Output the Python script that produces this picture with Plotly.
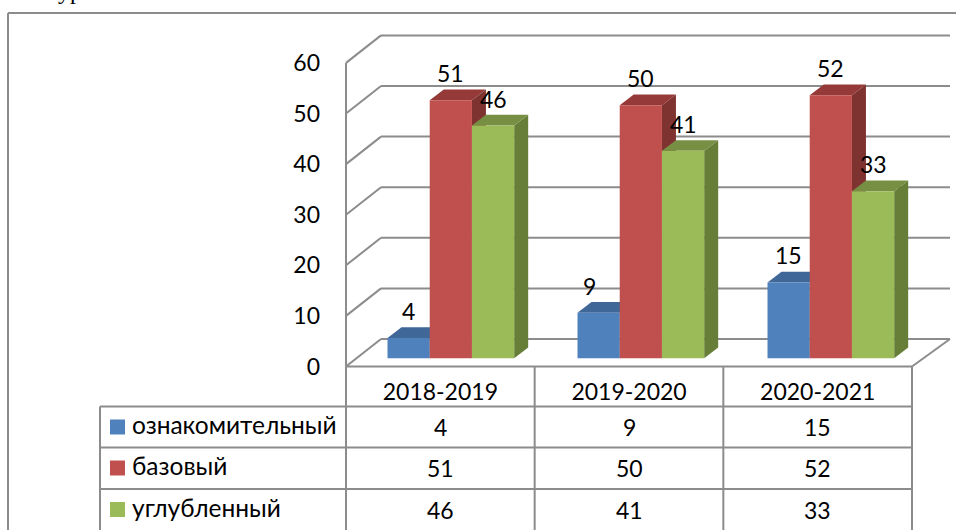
import plotly.graph_objects as go

# ---------- data ----------
categories = ["2018-2019", "2019-2020", "2020-2021"]
series_names = ["ознакомительный", "базовый", "углубленный"]
introductory = [4, 9, 15]
basic = [51, 50, 52]
advanced = [46, 41, 33]
tick_values = [0, 10, 20, 30, 40, 50, 60]

series_values = [introductory, basic, advanced]
front_colors = ["#4F81BD", "#C0504D", "#9BBB59"]
top_colors = ["#3F6797", "#953A38", "#778F43"]
side_colors = ["#345379", "#7F3331", "#667E38"]

# ---------- layout constants (pixels of the 956x530 page) ----------
W, H = 956, 530
PX_PER_CAT = 188.67
PX_PER_VAL = 5.06
GROUP_STEP = 190.0 / PX_PER_CAT   # bars sit on a plane slightly deeper than the table
X0_PX, Y0_PX = 346.0, 366.5       # left edge of first category, value 0 on the front wall
DOM_L, DOM_R, DOM_T, DOM_B = 338.0, 956.0, 13.0, 376.0
GRID = "#8C8C8C"
FONT = "Lato, 'Open Sans', sans-serif"
FS = 23
FS_NAME = 24.5

def dx(px):
    return px / PX_PER_CAT

def dy(px):
    return px / PX_PER_VAL

def py(px):
    return (DOM_B - px) / (DOM_B - DOM_T)

def px_paper(px):
    return (px - DOM_L) / (DOM_R - DOM_L)

WALL_DX, WALL_DY = dx(35), dy(27.5)
BAR_SHIFT_X, BAR_BASE = dx(10.5), dy(8.2)
BAR_DX, BAR_DY = dx(14), dy(10.7)
BAR_W = GROUP_STEP * 2 / 9
n = len(categories)
x_left = -0.5
x_right = 2.5
bar_x = [i * GROUP_STEP + BAR_SHIFT_X for i in range(n)]

xrange = [x_left - dx(X0_PX - DOM_L), x_left + dx(DOM_R - X0_PX)]
yrange = [-dy(DOM_B - Y0_PX), dy(Y0_PX - DOM_T)]

shapes = []

def line(x0, y0, x1, y1, xref="x", yref="y", w=2):
    shapes.append(dict(type="line", x0=x0, y0=y0, x1=x1, y1=y1, xref=xref, yref=yref,
                       layer="between", line=dict(color=GRID, width=w)))

def poly(pts, color):
    path = "M " + " L ".join(f"{a},{b}" for a, b in pts) + " Z"
    shapes.append(dict(type="path", path=path, xref="x", yref="y", layer="between",
                       fillcolor=color, line=dict(width=0)))

# outer frame of the embedded picture
line(px_paper(8), py(13), px_paper(W), py(13), "paper", "paper", 2)
line(px_paper(8), py(13), px_paper(8), py(H), "paper", "paper", 2)

# 3D walls
xb_right = x_right + dx(38)
for v in tick_values:
    line(x_left, v, x_left + WALL_DX, v + WALL_DY)
    line(x_left + WALL_DX, v + WALL_DY, xb_right, v + WALL_DY)
line(x_left, tick_values[0], x_left, tick_values[-1])
line(x_left, 0, x_right, 0)
line(x_right, 0, xb_right, WALL_DY)

# depth faces of the bars, from the data
for s, vals in enumerate(series_values):
    for i, v in enumerate(vals):
        left = bar_x[i] + (s - 1.5) * BAR_W
        right = left + BAR_W
        top = BAR_BASE + v
        poly([(right, BAR_BASE), (right + BAR_DX, BAR_BASE + BAR_DY),
              (right + BAR_DX, top + BAR_DY), (right, top)], side_colors[s])
        poly([(left, top), (left + BAR_DX, top + BAR_DY),
              (right + BAR_DX, top + BAR_DY), (right, top)], top_colors[s])

# data table
table_rows = [406.5, 447.5, 489.0]
row_centres = [427, 468, 509.5]
for r in table_rows:
    line(px_paper(100), py(r), px_paper(912), py(r), "paper", "paper")
line(px_paper(100), py(406.5), px_paper(100), py(H), "paper", "paper")
for k in range(n + 1):
    xk = px_paper(X0_PX + k * PX_PER_CAT)
    line(xk, py(366.5), xk, py(H), "paper", "paper")

annotations = []
for s, (name, vals) in enumerate(zip(series_names, series_values)):
    yc = row_centres[s]
    shapes.append(dict(type="rect", x0=px_paper(110), x1=px_paper(125),
                       y0=py(yc - 7.5), y1=py(yc + 7.5), xref="paper", yref="paper",
                       fillcolor=front_colors[s], line=dict(width=0)))
    annotations.append(dict(x=px_paper(130), y=py(yc - 2.5), xref="paper", yref="paper", text=name,
                            showarrow=False, xanchor="left", yanchor="middle",
                            font=dict(family=FONT, size=FS_NAME, color="black")))
    for i, v in enumerate(vals):
        annotations.append(dict(x=px_paper(X0_PX + (i + 0.5) * PX_PER_CAT), y=py(yc),
                                xref="paper", yref="paper", text=str(v), showarrow=False,
                                xanchor="center", yanchor="middle",
                                font=dict(family=FONT, size=FS, color="black")))
        # value label above the bar
        annotations.append(dict(x=bar_x[i] + (s - 1) * BAR_W, y=BAR_BASE + v,
                                xref="x", yref="y", text=str(v), showarrow=False,
                                xanchor="center", yanchor="middle", yshift=27,
                                xshift=-9 if (s, i) == (0, 1) else 0,
                                font=dict(family=FONT, size=FS, color="black")))

# cropped line of document text above the picture
annotations.append(dict(x=px_paper(56), y=py(6), xref="paper", yref="paper", text="ур",
                        showarrow=False, xanchor="left", yanchor="bottom",
                        font=dict(family="Liberation Serif", size=24, color="black")))

fig = go.Figure()
for s, vals in enumerate(series_values):
    fig.add_trace(go.Bar(name=series_names[s], x=bar_x, y=vals, base=BAR_BASE,
                         marker=dict(color=front_colors[s], line=dict(width=0))))

fig.update_layout(
    width=W, height=H, autosize=False,
    margin=dict(l=DOM_L, r=W - DOM_R, t=DOM_T, b=H - DOM_B, pad=0),
    paper_bgcolor="white", plot_bgcolor="rgba(0,0,0,0)",
    showlegend=False, barmode="group", bargap=1 / 3, bargroupgap=0,
    shapes=shapes, annotations=annotations,
    font=dict(family=FONT, size=FS, color="black"),
    xaxis=dict(range=xrange, tickmode="array", tickvals=list(range(n)), ticktext=categories,
               showgrid=False, zeroline=False, showline=False, ticks="",
               ticklabelstandoff=0, tickfont=dict(family=FONT, size=FS, color="black")),
    yaxis=dict(range=yrange, tickmode="array", tickvals=tick_values,
               showgrid=False, zeroline=False, showline=False, ticks="",
               ticklabelstandoff=17, tickfont=dict(family=FONT, size=FS, color="black")),
)

fig.write_html("out.html", config={"displayModeBar": False},
               post_script="document.body.style.margin='0';document.documentElement.style.overflow='hidden';")
